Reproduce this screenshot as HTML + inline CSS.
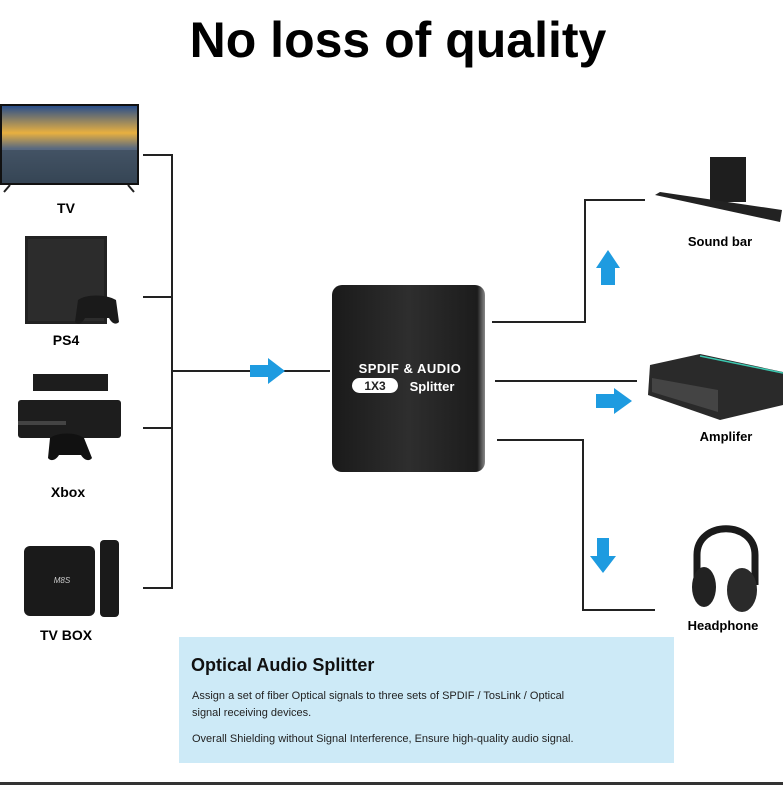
<!DOCTYPE html>
<html><head><meta charset="utf-8"><style>
html,body{margin:0;padding:0;background:#fff;}
svg{display:block;font-family:"Liberation Sans",Arial,sans-serif;}
</style></head><body>
<svg width="783" height="785" viewBox="0 0 783 785" xmlns="http://www.w3.org/2000/svg">
<defs>
<linearGradient id="sky" x1="0" y1="0" x2="0" y2="1">
<stop offset="0" stop-color="#2a4f8a"/><stop offset="0.35" stop-color="#e8b040"/><stop offset="0.55" stop-color="#5a6a80"/><stop offset="1" stop-color="#2b3a4a"/>
</linearGradient>
<linearGradient id="box" x1="0" y1="0" x2="1" y2="0">
<stop offset="0" stop-color="#1a1a1a"/><stop offset="0.5" stop-color="#2e2e2e"/><stop offset="0.95" stop-color="#1c1c1c"/><stop offset="1" stop-color="#888"/>
</linearGradient>
</defs>
<text x="398" y="57" text-anchor="middle" font-size="50" font-weight="bold" fill="#000">No loss of quality</text>

<g stroke="#222" stroke-width="2" fill="none">
<path d="M143 155H172V588H143"/>
<path d="M143 297H172"/><path d="M143 428H172"/>
<path d="M172 371H330"/>
<path d="M492 322H585V200H645"/>
<path d="M495 381H637"/>
<path d="M497 440H583V610H655"/>
</g>
<g fill="#1e9be0">
<path d="M250 365H268V358L285 371L268 384V377H250Z"/>
<path d="M601 285V268H596L608 250L620 268H615V285Z"/>
<path d="M596 394H614V388L632 401L614 414V408H596Z"/>
<path d="M597 538H609V556H616L603 573L590 556H597Z"/>
</g>

<rect x="0" y="104" width="139" height="81" fill="#111"/>
<rect x="2" y="106" width="135" height="77" fill="url(#sky)"/>
<rect x="2" y="150" width="135" height="33" fill="#3a4a5a" opacity="0.7"/>
<path d="M10 185L4 192M128 185L134 192" stroke="#222" stroke-width="2"/>
<text x="66" y="213" text-anchor="middle" font-size="14" font-weight="bold">TV</text>

<rect x="25" y="236" width="82" height="88" fill="#222"/>
<rect x="28" y="239" width="76" height="82" fill="#2c2c2c"/>
<path d="M78 300c8-6 28-6 38 0l3 22c-4 4-8 0-10-4h-24c-2 4-6 8-10 4z" fill="#1a1a1a"/>
<text x="66" y="345" text-anchor="middle" font-size="14" font-weight="bold">PS4</text>

<rect x="33" y="374" width="75" height="17" fill="#1d1d1d"/>
<rect x="18" y="400" width="103" height="38" rx="3" fill="#1d1d1d"/>
<rect x="18" y="421" width="48" height="4" fill="#444"/>
<path d="M50 438c8-6 26-6 34 0l8 20c-3 4-8 2-11-3h-22c-3 5-8 7-11 3z" fill="#111"/>
<text x="68" y="497" text-anchor="middle" font-size="14" font-weight="bold">Xbox</text>

<rect x="24" y="546" width="71" height="70" rx="6" fill="#1a1a1a"/>
<text x="62" y="583" text-anchor="middle" font-size="8" fill="#ccc" font-style="italic">M8S</text>
<rect x="100" y="540" width="19" height="77" rx="4" fill="#1a1a1a"/>
<text x="66" y="640" text-anchor="middle" font-size="14" font-weight="bold">TV BOX</text>

<rect x="332" y="285" width="153" height="187" rx="10" fill="url(#box)"/>
<text x="410" y="373" text-anchor="middle" font-size="13" font-weight="bold" fill="#fff" letter-spacing="0.5">SPDIF &amp; AUDIO</text>
<rect x="352" y="378" width="46" height="15" rx="7.5" fill="#fff"/>
<text x="375" y="390" text-anchor="middle" font-size="12" font-weight="bold" fill="#222">1X3</text>
<text x="432" y="391" text-anchor="middle" font-size="13" font-weight="bold" fill="#fff">Splitter</text>

<rect x="710" y="157" width="36" height="45" fill="#1e1e1e"/>
<path d="M655 195L660 192L782 210L780 222Z" fill="#222"/>
<text x="720" y="246" text-anchor="middle" font-size="13" font-weight="bold">Sound bar</text>

<path d="M650 365L700 354L783 372V405L720 420L648 395Z" fill="#2a2a2a"/>
<path d="M652 378L718 390V412L652 392Z" fill="#444"/>
<path d="M700 356L783 373" stroke="#3cc8b0" stroke-width="1.5"/>
<text x="726" y="441" text-anchor="middle" font-size="13" font-weight="bold">Amplifer</text>

<path d="M697 585V555c0-35 58-35 58 0v30" stroke="#1a1a1a" stroke-width="7" fill="none"/>
<ellipse cx="704" cy="587" rx="12" ry="20" fill="#222"/>
<ellipse cx="742" cy="590" rx="15" ry="22" fill="#2a2a2a"/>
<text x="723" y="630" text-anchor="middle" font-size="13" font-weight="bold">Headphone</text>

<rect x="179" y="637" width="495" height="126" fill="#cdeaf7"/>
<text x="191" y="671" font-size="18" font-weight="bold" fill="#111">Optical Audio Splitter</text>
<text x="192" y="699" font-size="11" fill="#222">Assign a set of fiber Optical signals to three sets of  SPDIF / TosLink / Optical</text>
<text x="192" y="716" font-size="11" fill="#222">signal receiving devices.</text>
<text x="192" y="742" font-size="11" fill="#222">Overall Shielding without Signal Interference, Ensure high-quality audio signal.</text>
<rect x="0" y="782" width="783" height="3" fill="#333"/>
</svg>
</body></html>
